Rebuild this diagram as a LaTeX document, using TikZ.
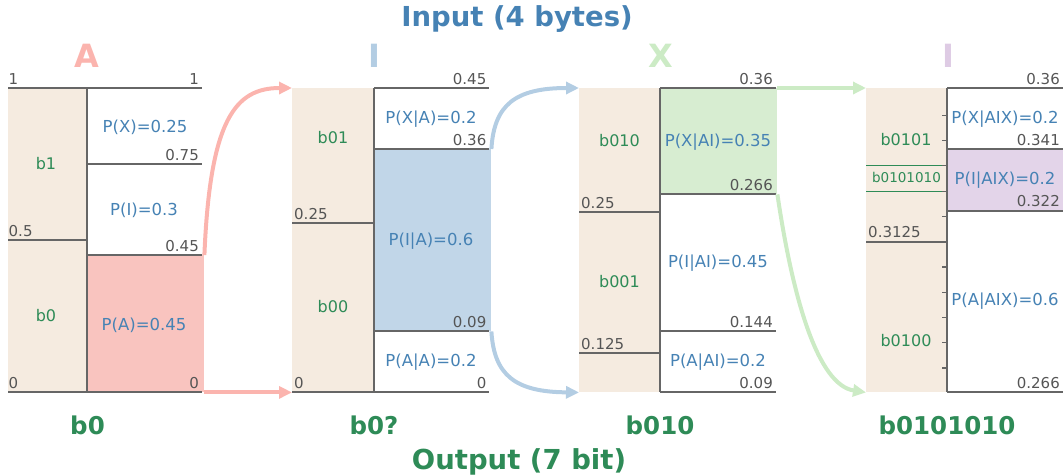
\documentclass[tikz,border=0pt]{standalone}
\usepackage{fontspec}
\setmainfont{DejaVu Sans}
\usetikzlibrary{arrows.meta}
\definecolor{beige}{HTML}{F5EBE0}
\definecolor{linegray}{HTML}{666666}
\definecolor{numgray}{HTML}{555555}
\definecolor{pblue}{HTML}{4682B4}
\definecolor{sgreen}{HTML}{2E8B57}
\definecolor{redA}{HTML}{FBB4AE}
\definecolor{blueI}{HTML}{B3CDE3}
\definecolor{greenX}{HTML}{CCEBC5}
\definecolor{purpI}{HTML}{DECBE4}
\definecolor{redfill}{HTML}{F9C4BF}
\definecolor{bluefill}{HTML}{C1D6E8}
\definecolor{greenfill}{HTML}{D7EDD1}
\definecolor{purpfill}{HTML}{E3D4E9}
\begin{document}
\begin{tikzpicture}[x=1pt,y=-1pt,
  col/.style={fill=beige, draw=none, inner sep=0pt, minimum width=#1, minimum height=304pt, anchor=north west},
  area/.style={draw=none, inner sep=0pt, anchor=north west},
  grid/.style={draw=linegray, line width=2pt},
  prob/.style={text=pblue, font=\fontsize{16.5}{19}\selectfont},
  bitl/.style={text=sgreen, font=\fontsize{16}{19}\selectfont},
  numl/.style={text=numgray, font=\fontsize{15}{18}\selectfont, inner sep=0pt, anchor=base west},
  numr/.style={text=numgray, font=\fontsize{15}{18}\selectfont, inner sep=0pt, anchor=base east},
  head/.style={font=\bfseries\fontsize{27.5}{32}\selectfont},
  sym/.style={font=\bfseries\fontsize{32}{38}\selectfont},
  outl/.style={text=sgreen, font=\bfseries\fontsize{24.5}{28}\selectfont},
  arr/.style={line width=4pt, -{Triangle[length=13pt,width=12pt]}}
]
\useasboundingbox (0,0) rectangle (1063,475);

% ---------- columns and highlighted areas
\node[col=79pt] (c1) at (8,88) {};
\node[col=82pt] (c2) at (292,88) {};
\node[col=81pt] (c3) at (579,88) {};
\node[col=81pt] (c4) at (866,88) {};
\node[area, fill=redfill, minimum width=117pt, minimum height=137pt] (f1) at (87,255) {};
\node[area, fill=bluefill, minimum width=117pt, minimum height=182pt] (f2) at (374,149) {};
\node[area, fill=greenfill, minimum width=117pt, minimum height=106pt] (f3) at (660,88) {};
\node[area, fill=purpfill, minimum width=116pt, minimum height=61.5pt] (f4) at (947,149.4) {};

% ---------- panel 1 lines
\draw[grid] (87,88) -- (87,392);
\draw[grid] (8,88) -- (202,88);
\draw[grid] (8,392) -- (202,392);
\draw[grid] (8,240) -- (87,240);
\draw[grid] (87,164) -- (202,164);
\draw[grid] (87,255) -- (202,255);
% ---------- panel 2 lines
\draw[grid] (374,88) -- (374,392);
\draw[grid] (374,88) -- (489,88);
\draw[grid] (292,392) -- (489,392);
\draw[grid] (292,223) -- (374,223);
\draw[grid] (374,149) -- (489,149);
\draw[grid] (374,331) -- (489,331);
% ---------- panel 3 lines
\draw[grid] (660,88) -- (660,392);
\draw[grid] (660,88) -- (776,88);
\draw[grid] (660,392) -- (776,392);
\draw[grid] (579,212) -- (660,212);
\draw[grid] (579,353) -- (660,353);
\draw[grid] (660,194) -- (776,194);
\draw[grid] (660,331) -- (776,331);
% ---------- panel 4 lines
\draw[draw=sgreen, line width=0.9pt] (866,165.8) -- (947,165.8);
\draw[draw=sgreen, line width=0.9pt] (866,191.1) -- (947,191.1);
\foreach \t in {115.3,140.6,165.8,191.1,216.4,241.6,266.9,292.1,317.4,342.7,368} {
  \draw[grid, line width=1.2pt] (942,\t) -- (947,\t);
}
\draw[grid] (947,88) -- (947,392);
\draw[grid] (947,88) -- (1063,88);
\draw[grid] (947,392) -- (1063,392);
\draw[grid] (866,241.6) -- (947,241.6);
\draw[grid] (947,149.4) -- (1063,149.4);
\draw[grid] (947,210.9) -- (1063,210.9);

% ---------- connectors
\draw[arr, draw=redA] (f1.north east) .. controls (210,120) and (235,88) .. (c2.north west);
\draw[arr, draw=redA] (f1.south east) -- (c2.south west);
\draw[arr, draw=blueI] (f2.north east) .. controls (494,105) and (515,88) .. (c3.north west);
\draw[arr, draw=blueI] (f2.south east) .. controls (494,375) and (515,392) .. (c3.south west);
\draw[arr, draw=greenX] (f3.north east) -- (c4.north west);
\draw[arr, draw=greenX] (f3.south east) .. controls (793,300) and (818,385) .. (c4.south west);

% ---------- numbers
\node[numl] (n1a) at (8.5,84) {1};
\node[numr] (n1b) at (199,84) {1};
\node[numl] (n1c) at (8.5,236) {0.5};
\node[numr] (n1d) at (199,160) {0.75};
\node[numr] (n1e) at (199,251) {0.45};
\node[numl] (n1f) at (8.5,388) {0};
\node[numr] (n1g) at (199,388) {0};

\node[numr] (n2a) at (486.5,84) {0.45};
\node[numr] (n2b) at (486.5,145) {0.36};
\node[numl] (n2c) at (294,219) {0.25};
\node[numr] (n2d) at (486.5,327) {0.09};
\node[numl] (n2e) at (294,388) {0};
\node[numr] (n2f) at (486.5,388) {0};

\node[numr] (n3a) at (773,84) {0.36};
\node[numr] (n3b) at (773,190) {0.266};
\node[numl] (n3c) at (581,208) {0.25};
\node[numr] (n3d) at (773,327) {0.144};
\node[numl] (n3e) at (581,349) {0.125};
\node[numr] (n3f) at (773,388) {0.09};

\node[numr] (n4a) at (1060,84) {0.36};
\node[numr] (n4b) at (1060,145.4) {0.341};
\node[numr] (n4c) at (1060,206.9) {0.322};
\node[numl] (n4d) at (868,237.6) {0.3125};
\node[numr] (n4e) at (1060,388) {0.266};

% ---------- probabilities
\node[prob] (p1a) at (145,127) {P(X)=0.25};
\node[prob] (p1b) at (144,210) {P(I)=0.3};
\node[prob] (p1c) at (144,325) {P(A)=0.45};
\node[prob] (p2a) at (431,119) {P(X|A)=0.2};
\node[prob] (p2b) at (431,241) {P(I|A)=0.6};
\node[prob] (p2c) at (431,362) {P(A|A)=0.2};
\node[prob] (p3a) at (718,142) {P(X|AI)=0.35};
\node[prob] (p3b) at (718,263.5) {P(I|AI)=0.45};
\node[prob] (p3c) at (718,362) {P(A|AI)=0.2};
\node[prob] (p4a) at (1005,119.5) {P(X|AIX)=0.2};
\node[prob] (p4b) at (1005,180) {P(I|AIX)=0.2};
\node[prob] (p4c) at (1005,301) {P(A|AIX)=0.6};

% ---------- bit labels
\node[bitl] (b1a) at (46,164) {b1};
\node[bitl] (b1b) at (46,316) {b0};
\node[bitl] (b2a) at (333,138) {b01};
\node[bitl] (b2b) at (333,307) {b00};
\node[bitl] (b3a) at (619.5,141) {b010};
\node[bitl] (b3b) at (619.5,282) {b001};
\node[bitl] (b4a) at (906,139.5) {b0101};
\node[bitl, font=\fontsize{13.5}{16}\selectfont] (b4b) at (906.5,177) {b0101010};
\node[bitl] (b4c) at (906,341) {b0100};

% ---------- headings
\node[head, text=pblue] (inp) at (517,19) {Input (4 bytes)};
\node[sym, text=redA] (sA) at (87,56) {A};
\node[sym, text=blueI] (sI1) at (374,56) {I};
\node[sym, text=greenX] (sX) at (661,56) {X};
\node[sym, text=purpI] (sI2) at (948,56) {I};
\node[outl] (o1) at (87.5,425) {b0};
\node[outl] (o2) at (374,425) {b0?};
\node[outl] (o3) at (660,425) {b010};
\node[outl] (o4) at (947,425) {b0101010};
\node[head, text=sgreen] (outp) at (519,462) {Output (7 bit)};
\end{tikzpicture}
\end{document}
